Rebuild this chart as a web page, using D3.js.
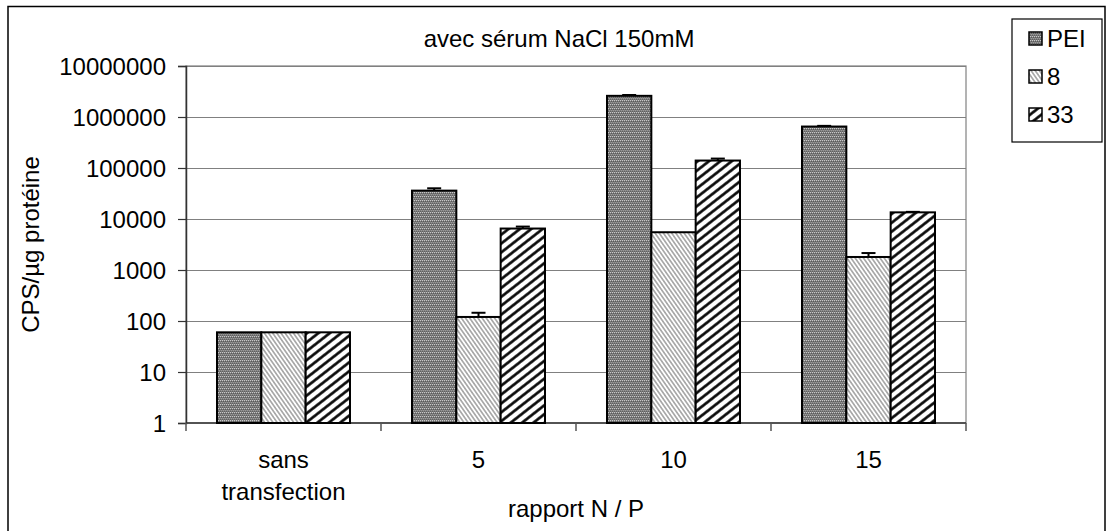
<!DOCTYPE html>
<html>
<head>
<meta charset="utf-8">
<script src="https://cdnjs.cloudflare.com/ajax/libs/d3/7.8.5/d3.min.js"></script>
<style>
  html, body { margin: 0; padding: 0; background: #fff; }
  svg { display: block; font-family: "Liberation Sans", Arial, sans-serif; }
</style>
</head>
<body>
<svg id="chart" width="1106" height="531"></svg>
<script>
// ---- data ----
const categories = ["sans transfection", "5", "10", "15"];
const seriesNames = ["PEI", "8", "33"];
const valuesPEI = [60, 36000, 2600000, 650000];
const values8   = [60, 120, 5500, 1800];
const values33  = [60, 6500, 140000, 13500];
const errorsPEI = [0, 4000, 100000, 20000];
const errors8   = [0, 25, 0, 350];
const errors33  = [0, 600, 13000, 300];
const yTicks = [1, 10, 100, 1000, 10000, 100000, 1000000, 10000000];
const titleText = "avec sérum NaCl 150mM";
const xTitle = "rapport N / P";
const yTitle = "CPS/µg protéine";

const seriesValues = [valuesPEI, values8, values33];
const seriesErrors = [errorsPEI, errors8, errors33];

// ---- layout ----
const svg = d3.select("#chart");
const plot = { left: 186, right: 966, top: 66, bottom: 423 };

// outer border
svg.append("rect").attr("x", 8).attr("y", 6.5).attr("width", 1097).attr("height", 540)
  .attr("fill", "#fff").attr("stroke", "#000").attr("stroke-width", 1.5);

// patterns
const defs = svg.append("defs");
const pPEI = defs.append("pattern").attr("id", "pat0").attr("patternUnits", "userSpaceOnUse")
  .attr("width", 4).attr("height", 4);
pPEI.append("rect").attr("width", 4).attr("height", 4).attr("fill", "#7c7c7c");
[[0,0,"#c8c8c8"],[2,0,"#c8c8c8"],[1,1,"#5a5a5a"],[3,1,"#5a5a5a"],[1,2,"#9a9a9a"],[3,2,"#9a9a9a"],[0,3,"#606060"],[2,3,"#606060"]]
  .forEach(([x,y,c]) => pPEI.append("rect").attr("x", x).attr("y", y).attr("width", 1).attr("height", 1).attr("fill", c));

const p8 = defs.append("pattern").attr("id", "pat1").attr("patternUnits", "userSpaceOnUse")
  .attr("width", 8).attr("height", 3.4).attr("patternTransform", "rotate(55)");
p8.append("rect").attr("width", 8).attr("height", 3.4).attr("fill", "#fff");
p8.append("line").attr("x1", 0).attr("x2", 8).attr("y1", 1.7).attr("y2", 1.7)
  .attr("stroke", "#7a7a7a").attr("stroke-width", 1.1);

const p33 = defs.append("pattern").attr("id", "pat2").attr("patternUnits", "userSpaceOnUse")
  .attr("width", 10).attr("height", 7).attr("patternTransform", "rotate(-38)");
p33.append("rect").attr("width", 10).attr("height", 7).attr("fill", "#fff");
p33.append("line").attr("x1", 0).attr("x2", 10).attr("y1", 3.5).attr("y2", 3.5)
  .attr("stroke", "#000").attr("stroke-width", 2.6);

// scales
const y = d3.scaleLog().domain([1, 10000000]).range([plot.bottom, plot.top]);
const x0 = d3.scaleBand().domain(categories).range([plot.left, plot.right])
  .paddingInner(0.318).paddingOuter(0.159);
const x1 = d3.scaleBand().domain(seriesNames).range([0, x0.bandwidth()]);

// plot area border (gray)
svg.append("rect").attr("x", plot.left).attr("y", plot.top)
  .attr("width", plot.right - plot.left).attr("height", plot.bottom - plot.top)
  .attr("fill", "none").attr("stroke", "#808080").attr("stroke-width", 1.2);

// gridlines
svg.append("g").selectAll("line").data(yTicks.slice(1)).join("line")
  .attr("x1", plot.left).attr("x2", plot.right)
  .attr("y1", d => Math.round(y(d)) + 0.5).attr("y2", d => Math.round(y(d)) + 0.5)
  .attr("stroke", "#808080").attr("stroke-width", 1.2);

// y axis
const yAxis = d3.axisLeft(y).tickValues(yTicks).tickFormat(d3.format("d")).tickSize(8).tickPadding(12);
const gy = svg.append("g").attr("transform", `translate(${plot.left},0)`).call(yAxis);
gy.select(".domain").attr("stroke", "#333").attr("stroke-width", 1.5);
gy.selectAll(".tick line").attr("stroke", "#333").attr("stroke-width", 1.2);
gy.selectAll(".tick text").attr("font-size", 24).attr("fill", "#000")
  .attr("font-family", "Liberation Sans, Arial, sans-serif").attr("dy", "0.36em");

// x axis (line + boundary ticks)
svg.append("line").attr("x1", plot.left).attr("x2", plot.right)
  .attr("y1", plot.bottom).attr("y2", plot.bottom).attr("stroke", "#333").attr("stroke-width", 1.5);
const boundaries = categories.map(c => x0(c) - x0.step() * x0.paddingInner() / 2);
boundaries.push(plot.right);
svg.append("g").selectAll("line").data(boundaries).join("line")
  .attr("x1", d => d).attr("x2", d => d).attr("y1", plot.bottom).attr("y2", plot.bottom + 8)
  .attr("stroke", "#555").attr("stroke-width", 1.5);

// category labels
const catLabels = svg.append("g").attr("font-size", 24).attr("text-anchor", "middle");
categories.forEach(c => {
  const words = c.split(" ");
  const t = catLabels.append("text").attr("x", x0(c) + x0.bandwidth() / 2).attr("y", 468);
  words.forEach((w, i) => t.append("tspan").attr("x", x0(c) + x0.bandwidth() / 2).attr("y", 468 + i * 32).text(w));
});

// bars
const barData = [];
categories.forEach((c, ci) => seriesNames.forEach((s, si) => {
  barData.push({ c, s, si, v: seriesValues[si][ci], e: seriesErrors[si][ci] });
}));
svg.append("g").selectAll("rect").data(barData).join("rect")
  .attr("x", d => x0(d.c) + x1(d.s))
  .attr("y", d => y(d.v))
  .attr("width", x1.bandwidth())
  .attr("height", d => y(1) - y(d.v))
  .attr("fill", d => `url(#pat${d.si})`)
  .attr("stroke", "#000").attr("stroke-width", 2);

// error bars
const eb = svg.append("g").attr("stroke", "#000").attr("stroke-width", 2);
barData.filter(d => d.e > 0).forEach(d => {
  const cx = x0(d.c) + x1(d.s) + x1.bandwidth() / 2;
  eb.append("line").attr("x1", cx).attr("x2", cx).attr("y1", y(d.v)).attr("y2", y(d.v + d.e));
  eb.append("line").attr("x1", cx - 7).attr("x2", cx + 7).attr("y1", y(d.v + d.e)).attr("y2", y(d.v + d.e));
});

// titles
svg.append("text").attr("x", 559).attr("y", 47).attr("text-anchor", "middle")
  .attr("font-size", 24).text(titleText);
svg.append("text").attr("x", (plot.left + plot.right) / 2).attr("y", 517).attr("text-anchor", "middle")
  .attr("font-size", 24).text(xTitle);
svg.append("text").attr("transform", `translate(39,${(plot.top + plot.bottom) / 2}) rotate(-90)`)
  .attr("text-anchor", "middle").attr("font-size", 24).text(yTitle);

// legend
svg.append("rect").attr("x", 1012).attr("y", 19).attr("width", 90).attr("height", 123)
  .attr("fill", "#fff").attr("stroke", "#000").attr("stroke-width", 1.2);
const lg = svg.append("g");
seriesNames.forEach((s, i) => {
  const base = 47 + i * 38;
  lg.append("rect").attr("x", 1029).attr("y", base - 15).attr("width", 13).attr("height", 13)
    .attr("fill", `url(#pat${i})`).attr("stroke", "#000").attr("stroke-width", 1.5);
  lg.append("text").attr("x", 1047).attr("y", base).attr("font-size", 24).text(s);
});
</script>
</body>
</html>
